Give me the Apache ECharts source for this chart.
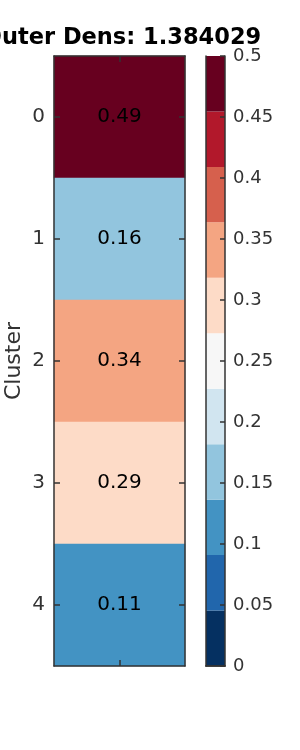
<!DOCTYPE html>
<html>
<head>
<meta charset="utf-8">
<script src="https://cdn.jsdelivr.net/npm/echarts@6/dist/echarts.min.js"></script>
<style>
  html, body { margin: 0; padding: 0; background: #fff; }
  #chart { width: 300px; height: 750px; }
</style>
</head>
<body>
<div id="chart"></div>
<script>
const clusters = ['0', '1', '2', '3', '4']
const density = [0.49, 0.16, 0.34, 0.29, 0.11]
const titleText = 'Outer Dens: 1.384029'
// RdBu reversed, 11 steps between 0 and 0.5
const binColors = ['#053061', '#2166ac', '#4393c3', '#92c5de', '#d1e5f0', '#f7f7f7',
  '#fddbc7', '#f4a582', '#d6604d', '#b2182b', '#67001f']
const cbMin = 0
const cbMax = 0.5

const font = 'DejaVu Sans'
const ink = '#333'
const step = (cbMax - cbMin) / binColors.length

let pieces = binColors.map((c, i) => ({
  gte: cbMin + i * step,
  lt: i === binColors.length - 1 ? cbMax + 1 : cbMin + (i + 1) * step,
  color: c
}))

let heatData = density.map((v, i) => [0, i, v])

let cbSeries = binColors.map((c, i) => ({
  type: 'bar',
  xAxisIndex: 2,
  yAxisIndex: 2,
  stack: 'cb',
  barWidth: '100%',
  silent: true,
  z: 1,
  itemStyle: { color: c },
  data: [step]
}))

let frameLine = { lineStyle: { color: ink, width: 1.5 } }
let frameTick = { show: true, inside: true, alignWithLabel: true, length: 6, lineStyle: { color: ink, width: 1.5 } }

let chart = echarts.init(document.getElementById('chart'))
chart.setOption({
  animation: false,
  backgroundColor: '#fff',
  textStyle: { fontFamily: font },
  title: {
    text: titleText,
    left: 117,
    top: 22,
    textAlign: 'center',
    textStyle: { fontFamily: font, fontWeight: 'bold', fontSize: 22.5, color: '#000' }
  },
  grid: [
    { left: 54, top: 56, width: 131, height: 610 },
    { left: 206, top: 56, width: 19, height: 610 }
  ],
  xAxis: [
    {
      gridIndex: 0, type: 'category', data: [''], position: 'bottom', z: 10,
      axisLine: frameLine, axisTick: frameTick,
      axisLabel: { show: false }, splitLine: { show: false }
    },
    {
      gridIndex: 0, type: 'category', data: [''], position: 'top', z: 10,
      axisLine: frameLine, axisTick: frameTick,
      axisLabel: { show: false }
    },
    {
      gridIndex: 1, type: 'category', data: [''], z: 10,
      axisLine: frameLine, axisTick: { show: false }, axisLabel: { show: false }
    },
    {
      gridIndex: 1, type: 'category', data: [''], position: 'top', z: 10,
      axisLine: frameLine, axisTick: { show: false }, axisLabel: { show: false }
    }
  ],
  yAxis: [
    {
      gridIndex: 0, type: 'category', data: clusters, inverse: true, position: 'left', z: 10,
      name: 'Cluster', nameLocation: 'middle', nameGap: 29,
      nameTextStyle: { fontFamily: font, fontSize: 22, color: ink },
      axisLine: frameLine, axisTick: frameTick,
      axisLabel: { fontFamily: font, fontSize: 20, color: ink, margin: 9 },
      splitLine: { show: false }
    },
    {
      gridIndex: 0, type: 'category', data: clusters, inverse: true, position: 'right', z: 10,
      axisLine: frameLine, axisTick: frameTick,
      axisLabel: { show: false }
    },
    {
      gridIndex: 1, type: 'value', min: cbMin, max: cbMax, interval: 0.05, position: 'right', z: 10,
      axisLine: { show: true, lineStyle: { color: ink, width: 1.5 } },
      axisTick: { show: true, inside: true, length: 5, lineStyle: { color: ink, width: 1.5 } },
      axisLabel: { fontFamily: font, fontSize: 18, color: ink, margin: 8 },
      splitLine: { show: false }
    },
    {
      gridIndex: 1, type: 'value', min: cbMin, max: cbMax, position: 'left', z: 10,
      axisLine: { show: true, lineStyle: { color: ink, width: 1.5 } },
      axisTick: { show: false }, axisLabel: { show: false }, splitLine: { show: false }
    }
  ],
  visualMap: {
    type: 'piecewise',
    show: false,
    seriesIndex: 0,
    dimension: 2,
    pieces: pieces
  },
  series: [
    {
      type: 'heatmap',
      xAxisIndex: 0,
      yAxisIndex: 0,
      data: heatData,
      z: 1,
      label: {
        show: true,
        fontFamily: font,
        fontSize: 20,
        color: '#000',
        formatter: p => p.value[2].toFixed(2)
      }
    }
  ].concat(cbSeries)
})
</script>
</body>
</html>
